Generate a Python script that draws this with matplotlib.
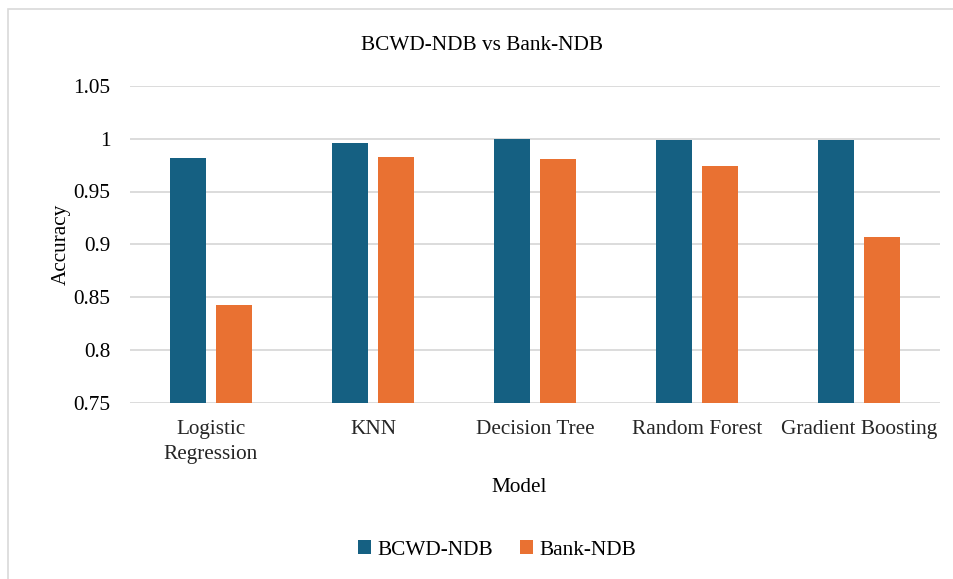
import matplotlib
matplotlib.use("Agg")
import matplotlib.pyplot as plt
import numpy as np
from matplotlib.patches import Rectangle

models = ["Logistic\nRegression", "KNN", "Decision Tree", "Random Forest", "Gradient Boosting"]
bcwd_ndb = [0.982, 0.996, 0.9995, 0.999, 0.999]
bank_ndb = [0.842, 0.983, 0.981, 0.974, 0.907]
yticks = [0.75, 0.8, 0.85, 0.9, 0.95, 1.0, 1.05]
yticklabels = ["0.75", "0.8", "0.85", "0.9", "0.95", "1", "1.05"]

plt.rcParams['font.family'] = ['Liberation Serif', 'DejaVu Serif']

W, H = 954, 579
fs = 15.3
fig = plt.figure(figsize=(W/100, H/100), dpi=100)
fig.patch.set_facecolor("white")

# outer chart frame
fig.patches.append(Rectangle((8/W, -0.1), 1.2, 1 - 9/H + 0.1, transform=fig.transFigure,
                             fill=False, edgecolor="#d9d9d9", linewidth=1.2))

left, right, top, bottom = 130, 940, 86, 402.5
ax = fig.add_axes([left/W, 1 - bottom/H, (right-left)/W, (bottom-top)/H])

x = np.arange(len(models))
bw = 0.222
off = 0.142
ax.bar(x - off, bcwd_ndb, bw, color="#156082", label="BCWD-NDB", zorder=3)
ax.bar(x + off, bank_ndb, bw, color="#E97132", label="Bank-NDB", zorder=3)

ax.set_ylim(0.75, 1.05)
ax.set_xlim(-0.5, len(models) - 0.5)
ax.set_yticks(yticks)
ax.set_yticklabels(yticklabels, fontsize=fs)
ax.set_xticks(x)
ax.set_xticklabels(models, fontsize=fs, color="#262626", linespacing=1.45)
ax.tick_params(axis='x', length=0, pad=12.5)
ax.tick_params(axis='y', length=0, pad=14)
ax.grid(axis='y', color="#d9d9d9", linewidth=1.3, zorder=0)
for s in ax.spines.values():
    s.set_visible(False)

ax.set_ylabel("Accuracy", fontsize=fs, labelpad=2)
fig.text(519/W, 1 - 487/H, "Model", fontsize=fs, ha="center", va="center")
fig.text(482/W, 1 - 45/H, "BCWD-NDB vs Bank-NDB", fontsize=fs, ha="center", va="center")

fig.legend(loc="center", bbox_to_anchor=(497/W, 1 - 550/H), ncol=2, frameon=False,
           fontsize=fs, handlelength=0.6, handleheight=0.6, handletextpad=0.3, columnspacing=1.3)

fig.savefig("out.png", dpi=100, facecolor="white")
